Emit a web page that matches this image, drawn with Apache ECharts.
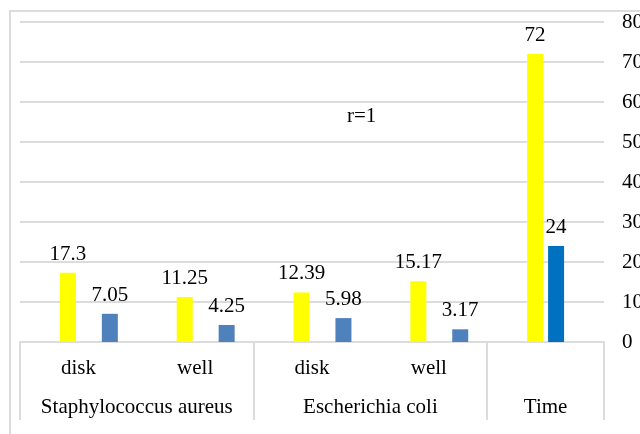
<!DOCTYPE html>
<html>
<head>
<meta charset="utf-8">
<script src="https://cdn.jsdelivr.net/npm/echarts@6/dist/echarts.min.js"></script>
<style>
  html, body { margin: 0; padding: 0; background: #fff; }
  #chart { width: 640px; height: 434px; }
</style>
</head>
<body>
<div id="chart"></div>
<script>
// Inhibition zone measurements, grouped by organism
const methods = ['disk', 'well', 'disk', 'well', ''];
const groups = ['Staphylococcus aureus', 'Escherichia coli', 'Time'];
const groupSpans = [2, 2, 1];
const yellowValues = [17.3, 11.25, 12.39, 15.17, 72];
const timeBlueValues = ['-', '-', '-', '-', 24];
const blueValues = [7.05, 4.25, 5.98, 3.17, '-'];
const yTicks = [0, 10, 20, 30, 40, 50, 60, 70, 80];
const noteText = 'r=1';

const FONT = "'Liberation Serif', 'Times New Roman', serif";
const FONT_SIZE = 21;
const GRID_COLOR = '#dcdcdc';
const LINE_W = 2;

// Build a half-step point axis for the group row: labels sit at the middle of
// each group, separators at the group edges.
const groupPoints = new Array(methods.length * 2 + 1).fill('');
const groupEdges = [0];
let pos = 0;
groups.forEach((g, i) => {
  groupPoints[pos + groupSpans[i]] = g;
  pos += groupSpans[i] * 2;
  groupEdges.push(pos);
});

const valueLabel = {
  show: true,
  position: 'top',
  distance: 8,
  fontFamily: FONT,
  fontSize: FONT_SIZE,
  color: '#000',
  formatter: p => String(p.value)
};

const chart = echarts.init(document.getElementById('chart'));
chart.setOption({
  animation: false,
  backgroundColor: '#fff',
  grid: { left: 20, right: 36, top: 22, bottom: 92, containLabel: false, outerBoundsMode: 'none' },
  xAxis: [
    {
      type: 'category',
      data: methods,
      axisLine: { show: true, lineStyle: { color: GRID_COLOR, width: LINE_W } },
      axisTick: { show: false },
      axisLabel: { interval: 0, margin: 16, fontFamily: FONT, fontSize: FONT_SIZE, color: '#000' }
    },
    {
      type: 'category',
      data: groupPoints,
      boundaryGap: false,
      position: 'bottom',
      axisLine: { show: false },
      axisTick: {
        show: true,
        length: 78,
        interval: (idx) => groupEdges.includes(idx),
        lineStyle: { color: GRID_COLOR, width: LINE_W }
      },
      axisLabel: { interval: 0, margin: 55, fontFamily: FONT, fontSize: FONT_SIZE, color: '#000' }
    }
  ],
  yAxis: {
    type: 'value',
    position: 'right',
    min: yTicks[0],
    max: yTicks[yTicks.length - 1],
    interval: yTicks[1] - yTicks[0],
    axisLine: { show: false },
    axisTick: { show: false },
    splitLine: { lineStyle: { color: GRID_COLOR, width: LINE_W } },
    axisLabel: { margin: 18, align: 'left', fontFamily: FONT, fontSize: FONT_SIZE, color: '#000' }
  },
  series: [
    { name: 'spacer', type: 'bar', barWidth: 16, barGap: '31%', data: methods.map(() => '-') },
    { name: 'a', type: 'bar', barWidth: 16, barGap: '31%', itemStyle: { color: '#ffff00' }, label: valueLabel, data: yellowValues },
    { name: 'b', type: 'bar', barWidth: 16, barGap: '31%', itemStyle: { color: '#0070c0' }, label: valueLabel, data: timeBlueValues },
    { name: 'c', type: 'bar', barWidth: 16, barGap: '31%', itemStyle: { color: '#4f81bd' }, label: valueLabel, data: blueValues }
  ],
  graphic: [
    {
      type: 'rect',
      silent: true,
      z: -1,
      shape: { x: 10, y: 11, width: 800, height: 600 },
      style: { fill: 'none', stroke: GRID_COLOR, lineWidth: LINE_W }
    },
    {
      type: 'text',
      left: 347,
      top: 106,
      style: { text: noteText, font: FONT_SIZE + 'px "Liberation Serif"', fill: '#000' }
    }
  ]
});
</script>
</body>
</html>
